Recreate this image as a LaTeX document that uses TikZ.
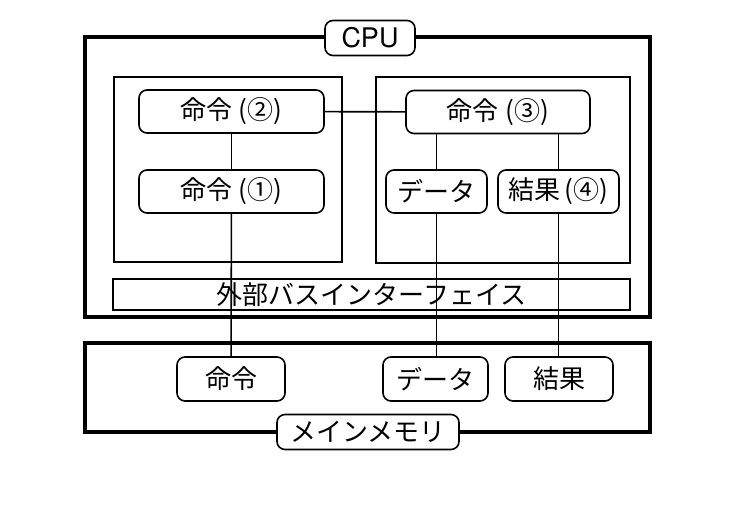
\documentclass[tikz,border=0pt]{standalone}
\usepackage{fontspec}
\setmainfont{Noto Sans CJK JP}
\newfontfamily\latinfont{TeX Gyre Heros}
\usetikzlibrary{positioning}

\begin{document}
\begin{tikzpicture}[ x = 1pt, y = -1pt
                   , font = \fontsize{26}{30}\selectfont
                   , frame/.style = { draw, line width = 3.4pt }
                   , core/.style = { draw, line width = 1.6pt }
                   , unit/.style = { rectangle
                                   , rounded corners = 8pt
                                   , draw
                                   , line width = 1.6pt
                                   , inner sep = 0pt
                                   , minimum height = 43pt }
                   , tag/.style = { unit, fill = white, minimum height = 35pt }
                   , wire/.style = { line width = 1.6pt }
                   ]
  \useasboundingbox (0,0) rectangle (742,505);

  % CPU side
  \draw[frame] (85,37) rectangle (650,317);
  \draw[core] (114,77) rectangle (342,262);
  \draw[core] (376,77) rectangle (630,263);
  \node (cpu) [tag, minimum width = 90pt] at (370,38) {\latinfont\fontsize{27}{30}\selectfont CPU};

  \node (cmdtwo) [unit, minimum width = 185pt] at (231.5,111.5) {命令\hspace{0.25em}(②)};
  \node (cmdone) [unit, minimum width = 185pt] at (231.5,191.5) {命令\hspace{0.25em}(①)};
  \node (cmdthree) [unit, minimum width = 184pt] at (498,112) {命令\hspace{0.25em}(③)};
  \node (data) [unit, minimum width = 101pt] at (436.5,191.5) {データ};
  \node (result) [unit, minimum width = 121pt] at (558.5,191.5) {結果\hspace{0.15em}(④)};

  \node (bus) [draw, line width = 1.6pt, minimum width = 517pt, minimum height = 31pt, inner sep = 0pt]
    at (371.5,294.5) {外部バスインターフェイス};

  % main memory side
  \draw[frame] (85,343) rectangle (650,432);
  \node (memcmd) [unit, minimum width = 108pt, minimum height = 44pt] at (231,379) {命令};
  \node (memdata) [unit, minimum width = 105pt, minimum height = 44pt] at (435.5,379) {データ};
  \node (memresult) [unit, minimum width = 108pt, minimum height = 44pt] at (559,379) {結果};
  \node (memory) [tag, minimum width = 182pt] at (368,432) {メインメモリ};

  \draw[wire] (cmdtwo) -- (cmdthree);
  \draw[wire] (cmdtwo) -- (cmdone);
  \draw[wire] (cmdone) -- (memcmd);
  \draw[wire] (cmdthree.south -| data) -- (data.north);
  \draw[wire] (cmdthree.south -| result) -- (result.north);
  \draw[wire] (data) -- (memdata.north -| data);
  \draw[wire] (result) -- (memresult.north -| result);
\end{tikzpicture}
\end{document}
